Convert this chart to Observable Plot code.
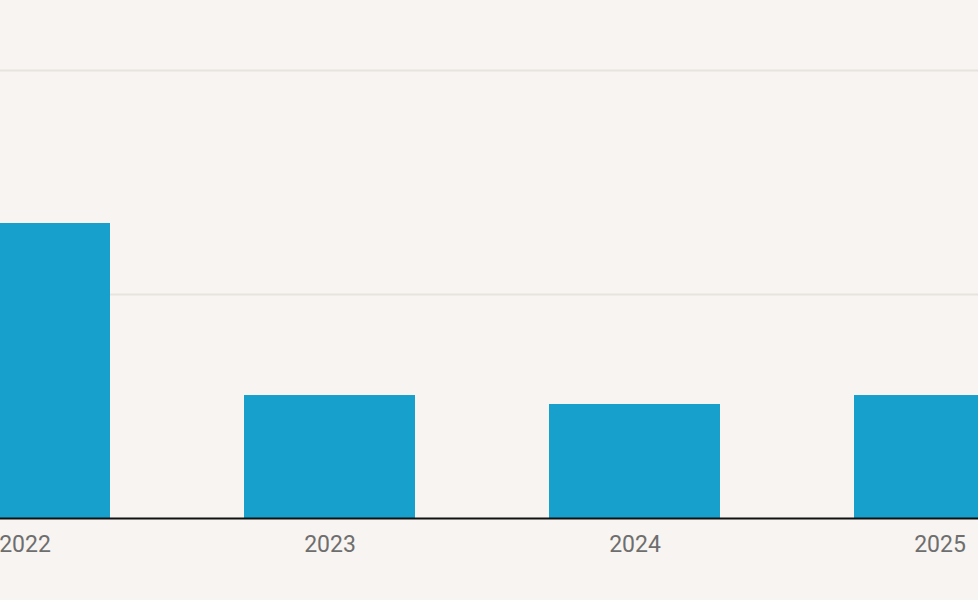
<!DOCTYPE html>
<html>
<head>
<meta charset="utf-8">
<script src="https://cdn.jsdelivr.net/npm/d3@7"></script>
<script src="https://cdn.jsdelivr.net/npm/@observablehq/plot@0.6"></script>
<style>
  html, body { margin: 0; padding: 0; background: #f8f4f1; overflow: hidden; }
  #chart svg { display: block; }
</style>
</head>
<body>
<div id="chart"></div>
<script>
const years = ["2022", "2023", "2024", "2025"];
const values = [13.17, 5.49, 5.09, 5.49];
const gridTicks = [10, 20];

const data = years.map((y, i) => ({year: y, value: values[i]}));

const chart = Plot.plot({
  width: 978,
  height: 600,
  marginTop: 0,
  marginRight: 0,
  marginBottom: 0,
  marginLeft: 0,
  style: {background: "#f8f4f1", fontFamily: "Roboto, sans-serif", overflow: "hidden"},
  x: {domain: years, range: [-195.9, 1160.5], paddingInner: 0.44, paddingOuter: 0.44, axis: null},
  y: {domain: [0, 20], range: [518, 70], axis: null},
  marks: [
    Plot.ruleY(gridTicks, {stroke: "#e6e3e0", strokeWidth: 2}),
    Plot.barY(data, {x: "year", y: "value", fill: "#18a0cc"}),
    Plot.ruleY([0], {stroke: "#111111", strokeWidth: 2}),
    Plot.text(years, {x: d => d, y: 0, dy: 26, fontSize: 23, fill: "#6e6e6e", textAnchor: "middle", lineAnchor: "middle"})
  ]
});
document.getElementById("chart").appendChild(chart);
</script>
</body>
</html>
